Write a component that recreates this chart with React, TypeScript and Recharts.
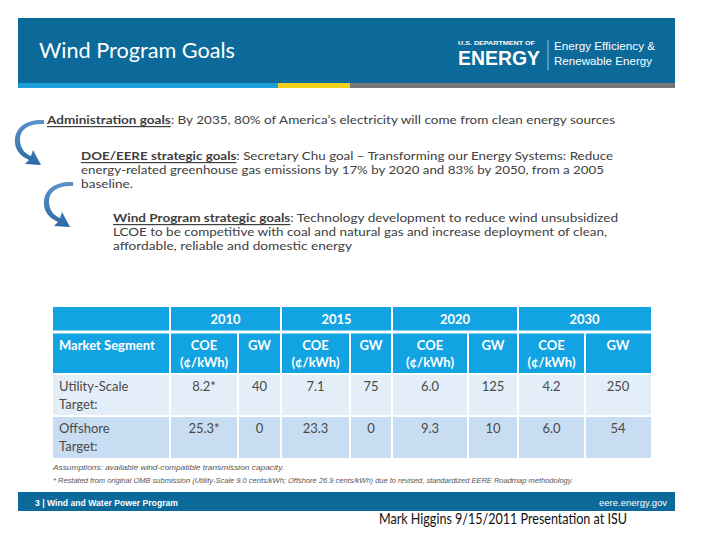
import React from 'react';
import { Surface, Rectangle } from 'recharts';

// ---------- data ----------
const slideTitle = 'Wind Program Goals';
const years = ['2010', '2015', '2020', '2030'];
const subHeads = ['COE', 'GW'];
const coeUnit = '(¢/kWh)';
const segmentHeader = 'Market Segment';
const segmentLabels = [['Utility-Scale', 'Target:'], ['Offshore', 'Target:']];
const utilityCOE = [8.2, 7.1, 6.0, 4.2];
const utilityGW = [40, 75, 125, 250];
const offshoreCOE = [25.3, 23.3, 9.3, 6.0];
const offshoreGW = [0, 0, 10, 54];
const restated = [true, false, false, false];

const goalAdmin = { head: 'Administration goals', lines: [': By 2035, 80% of America\u2019s electricity will come from clean energy sources'] };
const goalDoe = {
  head: 'DOE/EERE strategic goals',
  lines: [
    ':  Secretary Chu goal \u2013 Transforming our Energy Systems: Reduce',
    'energy-related greenhouse gas emissions by 17% by 2020 and 83% by 2050, from a 2005',
    'baseline.',
  ],
};
const goalWind = {
  head: 'Wind Program strategic goals',
  lines: [
    ': Technology development to reduce wind unsubsidized',
    'LCOE to be competitive with coal and natural gas and increase deployment of clean,',
    'affordable, reliable and domestic energy',
  ],
};
const footnotes = [
  'Assumptions: available wind-compatible transmission capacity.',
  '* Restated from original OMB submission (Utility-Scale 9.0 cents/kWh; Offshore 26.9 cents/kWh) due to revised, standardized EERE Roadmap methodology.',
];
const footerLeft = '3 | Wind and Water Power Program';
const footerRight = 'eere.energy.gov';
const caption = 'Mark Higgins 9/15/2011 Presentation at ISU';

// ---------- layout ----------
const W = 720;
const H = 540;
const BODY_FONT = "Lato, 'Open Sans', sans-serif";
const ARIAL = "'Liberation Sans', Arial, sans-serif";
const DARK_BLUE = '#0b6a9a';
const TABLE_BLUE = '#12a3e2';
const ROW1 = '#e3eef9';
const ROW2 = '#c9ddf2';
const TEXT_GRAY = '#404040';
const CELL_GRAY = '#4a4a4a';

const colX = [53, 170, 238, 281, 350, 392, 468, 518, 585, 651];
const rowY = [307, 332, 374, 416, 458];

const fmt = (v: number, star: boolean) => v.toFixed(1) + (star ? '*' : '');

const Arrow = ({ dx, dy, id }: { dx: number; dy: number; id: string }) => (
  <g transform={`translate(${dx},${dy})`}>
    <defs>
      <linearGradient id={id} x1="0" y1="0" x2="0" y2="1">
        <stop offset="0%" stopColor="#5b93c8" />
        <stop offset="100%" stopColor="#2c6aa6" />
      </linearGradient>
    </defs>
    <path
      d="M44,120 C28,119 19,126 20,137 C21,146 26,150 31,152 L33,146 L41,161 L25,160 L29,156 C20,152 14,145 15,135 C16,123 27,115 44,116 Z"
      fill={`url(#${id})`}
    />
  </g>
);

const GoalBlock = ({ x, y, goal, widths }: { x: number; y: number; goal: { head: string; lines: string[] }; widths: (number | null)[] }) => (
  <g fontFamily={BODY_FONT} fontSize={12} fill={TEXT_GRAY}>
    {goal.lines.map((line, i) => {
      const tl = widths[i];
      const extra = tl ? { textLength: tl, lengthAdjust: 'spacingAndGlyphs' as const } : {};
      return (
        <text key={i} x={x} y={y + i * 14} dominantBaseline="central" {...extra}>
          {i === 0 ? (
            <tspan fontWeight="bold" textDecoration="underline">{goal.head}</tspan>
          ) : null}
          <tspan>{line}</tspan>
        </text>
      );
    })}
  </g>
);

export default function App() {
  const groups = years.map((yr, i) => ({ yr, x0: colX[1 + i * 2], x1: colX[3 + i * 2] }));
  const rows = [
    { label: segmentLabels[0], coe: utilityCOE, gw: utilityGW, fill: ROW1, y0: rowY[2], y1: rowY[3] },
    { label: segmentLabels[1], coe: offshoreCOE, gw: offshoreGW, fill: ROW2, y0: rowY[3], y1: rowY[4] },
  ];
  return (
    <div style={{ position: 'absolute', left: 0, top: 0, width: W, height: H, background: '#fff' }}>
      <Surface width={W} height={H} viewBox={{ x: 0, y: 0, width: W, height: H }}>
        {/* header */}
        <Rectangle x={18} y={18} width={657} height={66} fill={DARK_BLUE} />
        <Rectangle x={18} y={83} width={260} height={5} fill="#1d9fda" />
        <Rectangle x={278} y={83} width={72} height={5} fill="#f2cf1f" />
        <Rectangle x={350} y={83} width={325} height={5} fill="#777777" />
        <text x={39} y={49} dominantBaseline="central" fontFamily={BODY_FONT} fontSize={21} fill="#fff" textLength={196} lengthAdjust="spacingAndGlyphs">
          {slideTitle}
        </text>
        <text x={458} y={43} dominantBaseline="central" fontFamily={ARIAL} fontWeight="bold" fontSize={5.5} fill="#fff" textLength={77} lengthAdjust="spacingAndGlyphs">
          U.S. DEPARTMENT OF
        </text>
        <text x={458} y={58} dominantBaseline="central" fontFamily={ARIAL} fontWeight="bold" fontSize={20} fill="#fff" textLength={82} lengthAdjust="spacingAndGlyphs">
          ENERGY
        </text>
        <line x1={548} y1={40} x2={548} y2={70} stroke="#9cc3da" strokeWidth={1} />
        <text x={554} y={46} dominantBaseline="central" fontFamily={ARIAL} fontSize={10.5} fill="#fff" textLength={101} lengthAdjust="spacingAndGlyphs">
          Energy Efficiency &amp;
        </text>
        <text x={554} y={61} dominantBaseline="central" fontFamily={ARIAL} fontSize={10.5} fill="#fff" textLength={98} lengthAdjust="spacingAndGlyphs">
          Renewable Energy
        </text>

        {/* goals */}
        <Arrow dx={0} dy={4} id="arr1" />
        <Arrow dx={29} dy={66} id="arr2" />
        <GoalBlock x={47} y={119} goal={goalAdmin} widths={[568]} />
        <GoalBlock x={81} y={155} goal={goalDoe} widths={[532, 523, 52]} />
        <GoalBlock x={113} y={217} goal={goalWind} widths={[505, 494, 239]} />

        {/* table */}
        <Rectangle x={colX[0]} y={rowY[0]} width={colX[9] - colX[0]} height={rowY[2] - rowY[0]} fill={TABLE_BLUE} />
        <line x1={colX[0]} y1={rowY[1]} x2={colX[9]} y2={rowY[1]} stroke="#fff" strokeWidth={3} />
        {rows.map((r, i) => (
          <Rectangle key={'row' + i} x={colX[0]} y={r.y0 + 1} width={colX[9] - colX[0]} height={r.y1 - r.y0 - 1} fill={r.fill} />
        ))}
        {colX.slice(1, 9).map((x, i) => (
          <line key={'cl' + i} x1={x} y1={i % 2 === 0 ? rowY[0] : rowY[1]} x2={x} y2={rowY[4]} stroke="#fff" strokeWidth={2} />
        ))}
        <line x1={colX[0]} y1={rowY[2]} x2={colX[9]} y2={rowY[2]} stroke="#fff" strokeWidth={2} />
        <line x1={colX[0]} y1={rowY[3]} x2={colX[9]} y2={rowY[3]} stroke="#fff" strokeWidth={2} />

        <g fontFamily={BODY_FONT} fontWeight="bold" fontSize={13} fill="#fff">
          {groups.map((g) => (
            <text key={'y' + g.yr} x={(g.x0 + g.x1) / 2} y={319} textAnchor="middle" dominantBaseline="central">
              {g.yr}
            </text>
          ))}
          <text x={59} y={345} dominantBaseline="central">{segmentHeader}</text>
          {years.map((yr, i) => {
            const cx = (colX[1 + i * 2] + colX[2 + i * 2]) / 2;
            const gx = (colX[2 + i * 2] + colX[3 + i * 2]) / 2;
            return (
              <g key={'sh' + yr}>
                <text x={cx} y={345} textAnchor="middle" dominantBaseline="central">{subHeads[0]}</text>
                <text x={cx} y={362} textAnchor="middle" dominantBaseline="central">{coeUnit}</text>
                <text x={gx} y={345} textAnchor="middle" dominantBaseline="central">{subHeads[1]}</text>
              </g>
            );
          })}
        </g>

        <g fontFamily={BODY_FONT} fontSize={13} fill={CELL_GRAY}>
          {rows.map((r, ri) => (
            <g key={'cells' + ri}>
              <text x={59} y={r.y0 + 12} dominantBaseline="central">{r.label[0]}</text>
              <text x={59} y={r.y0 + 30} dominantBaseline="central">{r.label[1]}</text>
              {years.map((yr, i) => {
                const cx = (colX[1 + i * 2] + colX[2 + i * 2]) / 2;
                const gx = (colX[2 + i * 2] + colX[3 + i * 2]) / 2;
                return (
                  <g key={'v' + yr}>
                    <text x={cx} y={r.y0 + 12} textAnchor="middle" dominantBaseline="central">{fmt(r.coe[i], restated[i])}</text>
                    <text x={gx} y={r.y0 + 12} textAnchor="middle" dominantBaseline="central">{r.gw[i]}</text>
                  </g>
                );
              })}
            </g>
          ))}
        </g>

        {/* footnotes */}
        <text x={53} y={467} dominantBaseline="central" fontFamily={ARIAL} fontStyle="italic" fontSize={7.5} fill="#555" textLength={231} lengthAdjust="spacingAndGlyphs">
          {footnotes[0]}
        </text>
        <text x={53} y={480} dominantBaseline="central" fontFamily={ARIAL} fontStyle="italic" fontSize={7} fill="#555" textLength={520} lengthAdjust="spacingAndGlyphs">
          {footnotes[1]}
        </text>

        {/* footer */}
        <Rectangle x={18} y={492} width={657} height={19} fill={DARK_BLUE} />
        <text x={35} y={502} dominantBaseline="central" fontFamily={ARIAL} fontWeight="bold" fontSize={9.5} fill="#fff" textLength={143} lengthAdjust="spacingAndGlyphs">
          {footerLeft}
        </text>
        <text x={667} y={502} textAnchor="end" dominantBaseline="central" fontFamily={ARIAL} fontSize={9.5} fill="#fff">
          {footerRight}
        </text>
        <text x={379} y={518} dominantBaseline="central" fontFamily={BODY_FONT} fontSize={15} fill="#111" textLength={248} lengthAdjust="spacingAndGlyphs">
          {caption}
        </text>
      </Surface>
    </div>
  );
}
